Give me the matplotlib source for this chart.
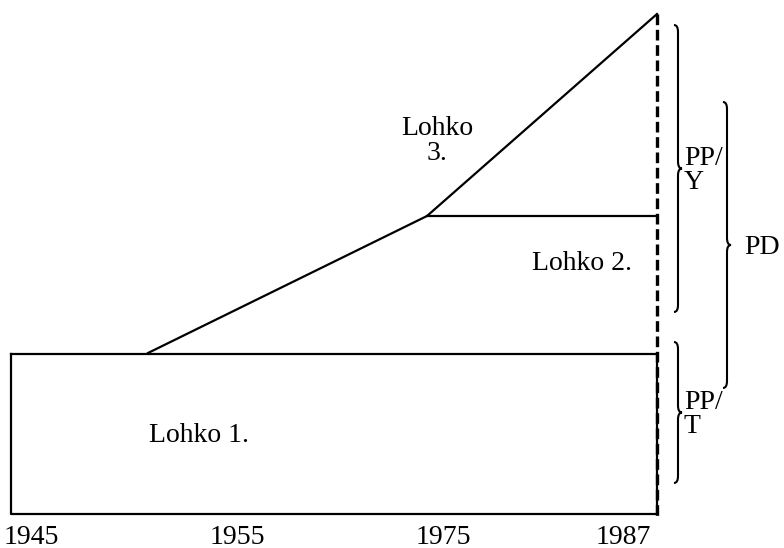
import matplotlib.pyplot as plt
from matplotlib.path import Path
from matplotlib.patches import PathPatch

# Schematic diagram, coordinates in drawing units (origin top-left)
year_labels = ["1945", "1955", "1975", "1987"]
year_pos = [31, 237, 443, 623]

# block 1: rectangle
block1_x = [11, 657]
block1_y = [354, 514]
# growth line: start, kink, end
growth_x = [148, 427, 657]
growth_y = [353, 216, 14]
# cut-off line (1987), dashed
cutoff_x = 657
cutoff_y = [14, 516]

block_labels = ["Lohko 1.", "Lohko 2.", "Lohko\n3."]
block_label_x = [199, 582, 437]
block_label_y = [435, 263, 141]

# braces: x, top, bottom, label, label x
brace_x = [678, 678, 727]
brace_top = [25, 342, 102]
brace_bottom = [312, 483, 388]
brace_labels = ["PP/\nY", "PP/\nT", "PD"]
brace_label_x = [684, 684, 744]

plt.rcParams['font.family'] = ['Liberation Serif', 'DejaVu Serif']

fig = plt.figure(figsize=(7.84, 5.48), dpi=100)
ax = fig.add_axes([0, 0, 1, 1])
ax.set_xlim(0, 784)
ax.set_ylim(548, 0)
ax.axis('off')

lw = 1.6
# block 1
ax.plot([block1_x[0], block1_x[1], block1_x[1], block1_x[0], block1_x[0]],
        [block1_y[0], block1_y[0], block1_y[1], block1_y[1], block1_y[0]],
        color='black', lw=lw)
# growth line and horizontal split
ax.plot(growth_x, growth_y, color='black', lw=lw)
ax.plot([growth_x[1], cutoff_x], [growth_y[1], growth_y[1]], color='black', lw=lw)
# dashed cut-off
ax.plot([cutoff_x, cutoff_x], cutoff_y, color='black', lw=2.4, linestyle=(0, (3.2, 1.4)))

for lab, x, y in zip(block_labels, block_label_x, block_label_y):
    ax.text(x, y, lab, ha='center', va='center', fontsize=20, linespacing=1.0)

for lab, x in zip(year_labels, year_pos):
    ax.text(x, 537, lab, ha='center', va='center', fontsize=20)


def brace(x, y0, y1, w=4, r=7):
    ym = (y0 + y1) / 2
    verts = [(x - w, y0), (x, y0), (x, y0 + r),
             (x, ym - r), (x, ym), (x + w, ym),
             (x, ym), (x, ym + r),
             (x, y1 - r), (x, y1), (x - w, y1)]
    codes = [Path.MOVETO, Path.CURVE3, Path.CURVE3,
             Path.LINETO, Path.CURVE3, Path.CURVE3,
             Path.CURVE3, Path.CURVE3,
             Path.LINETO, Path.CURVE3, Path.CURVE3]
    ax.add_patch(PathPatch(Path(verts, codes), fill=False, lw=1.5, edgecolor='black'))
    return ym


for bx, t, b, lab, lx in zip(brace_x, brace_top, brace_bottom, brace_labels, brace_label_x):
    ym = brace(bx, t, b)
    ax.text(lx, ym + 2, lab, ha='left', va='center', fontsize=20, linespacing=0.92)

fig.savefig('out.png', dpi=100)
